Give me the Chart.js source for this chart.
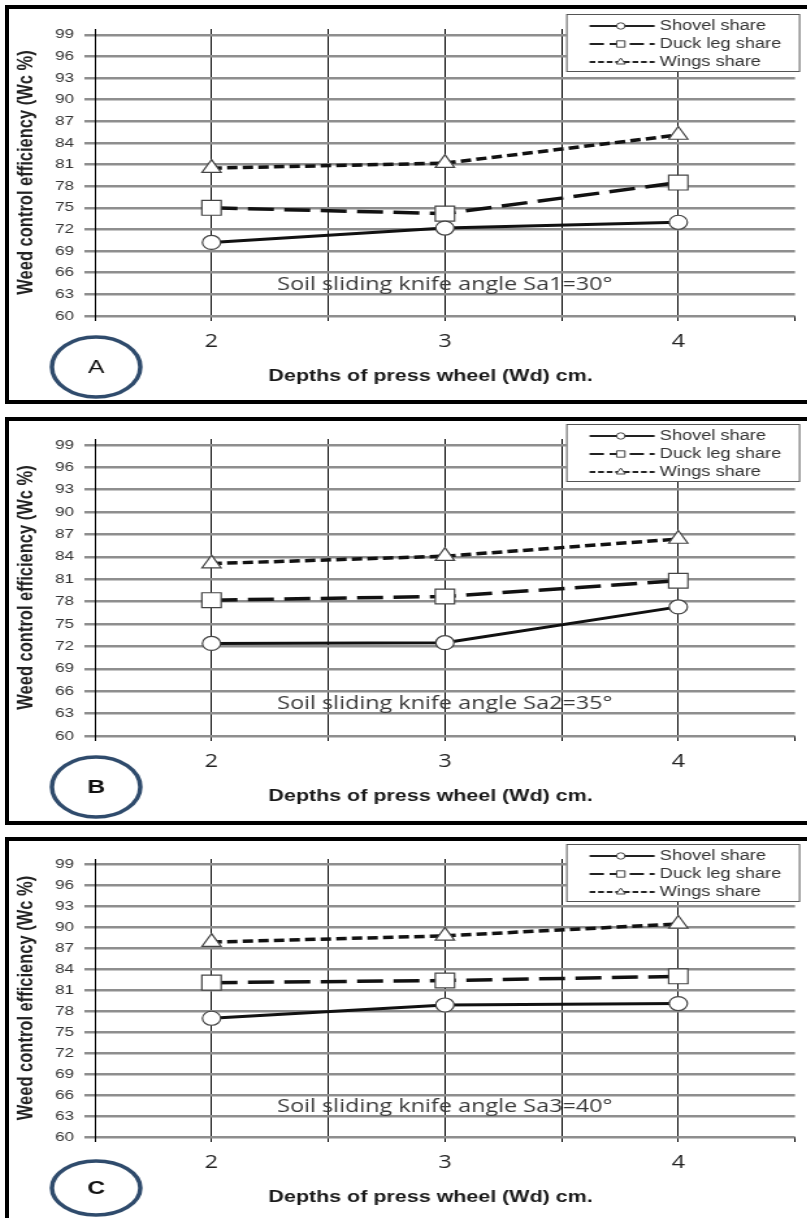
<!DOCTYPE html>
<html lang="en">
<head>
<meta charset="UTF-8">
<title>Weed control efficiency vs depth of press wheel</title>
<script src="https://cdn.jsdelivr.net/npm/chart.js"></script>
<style>
  html, body { margin: 0; padding: 0; background: #fff; width: 807px; height: 1218px; overflow: hidden; }
  .panel { position: absolute; left: 5px; width: 830px; border: 4px solid #000; background: #fff; overflow: hidden; }
  /* the scanned figure is stretched sideways, so the charts are too */
  .stretch { position: absolute; left: 0; top: 0; width: 620px; height: 100%; transform: scaleX(1.3); transform-origin: 0 0; }
</style>
</head>
<body>
<div class="panel" style="top:5px;height:391px"><div class="stretch"><canvas id="chartA"></canvas></div></div>
<div class="panel" style="top:417px;height:400px"><div class="stretch"><canvas id="chartB"></canvas></div></div>
<div class="panel" style="top:837px;height:400px"><div class="stretch"><canvas id="chartC"></canvas></div></div>

<script>
// ---- data ----
const depths = [2, 3, 4];
const yTicks = [60, 63, 66, 69, 72, 75, 78, 81, 84, 87, 90, 93, 96, 99];
const seriesNames = ['Shovel share', 'Duck leg share', 'Wings share'];

// A: Sa1 = 30°
const shovelA = [70.2, 72.2, 73.0];
const duckA   = [75.0, 74.2, 78.5];
const wingsA  = [80.5, 81.2, 85.1];
// B: Sa2 = 35°
const shovelB = [72.4, 72.5, 77.3];
const duckB   = [78.2, 78.7, 80.8];
const wingsB  = [83.1, 84.1, 86.4];
// C: Sa3 = 40°
const shovelC = [77.0, 78.9, 79.1];
const duckC   = [82.1, 82.4, 83.0];
const wingsC  = [87.9, 88.8, 90.5];

const panelLetters = ['A', 'B', 'C'];
const angleNotes = [
  'Soil sliding knife angle Sa1=30°',
  'Soil sliding knife angle Sa2=35°',
  'Soil sliding knife angle Sa3=40°'
];

// ---- styles ----
Chart.defaults.font.family = '"Liberation Sans", Arial, sans-serif';

const lineStyles = [
  { dash: [],      width: 3,   point: 'circle',   radius: 7,    legendRadius: 3.2 },
  { dash: [20, 8], width: 3.5, point: 'rect',     radius: 10.5, legendRadius: 4.5 },
  { dash: [8, 4],  width: 3.5, point: 'triangle', radius: 8.5,  legendRadius: 4 }
];

const layouts = [
  { id: 'chartA', top: 20, axisH: 84,  letterWeight: 'normal', ry: 30 },
  { id: 'chartB', top: 18, axisH: 85,  letterWeight: 'bold',   ry: 30 },
  { id: 'chartC', top: 18, axisH: 104, letterWeight: 'bold',   ry: 27 }
];

// note, x title, letter badge and legend
const panelDecor = {
  id: 'panelDecor',
  afterDraw(chart, args, opts) {
    const { ctx, chartArea: a, scales: { x, y } } = chart;
    ctx.save();
    ctx.textAlign = 'center';
    ctx.textBaseline = 'middle';

    ctx.font = '18px "Open Sans"';
    ctx.fillStyle = '#3a3a3a';
    ctx.fillText(opts.note, x.getPixelForValue(3), y.getPixelForValue(64.3));

    ctx.font = 'bold 16.5px "Liberation Sans"';
    ctx.fillStyle = '#1a1a1a';
    ctx.fillText('Depths of press wheel (Wd) cm.', (a.left + a.right) / 2 - 11, a.bottom + 60);

    const cx = 67, cy = a.bottom + 51;
    ctx.beginPath();
    ctx.ellipse(cx, cy, 34, opts.ry, 0, 0, Math.PI * 2);
    ctx.fillStyle = '#fff';
    ctx.fill();
    ctx.lineWidth = 3.5;
    ctx.strokeStyle = '#2f4b6c';
    ctx.stroke();
    ctx.fillStyle = '#111';
    ctx.font = opts.letterWeight + ' 19px "Liberation Sans"';
    ctx.fillText(opts.letter, cx, cy + 1);

    // legend box
    const lx = a.right - 176, ly = a.top - 15, lw = 179, lh = 57;
    ctx.fillStyle = '#fff';
    ctx.fillRect(lx, ly, lw, lh);
    ctx.lineWidth = 1;
    ctx.strokeStyle = '#555';
    ctx.strokeRect(lx + 0.5, ly + 0.5, lw, lh);

    chart.data.datasets.forEach((ds, i) => {
      const ry = ly + 12 + i * 18;
      ctx.setLineDash(ds.borderDash.map(d => d * 0.55));
      ctx.lineWidth = 2;
      ctx.strokeStyle = '#222';
      ctx.beginPath();
      ctx.moveTo(lx + 18, ry);
      ctx.lineTo(lx + 68, ry);
      ctx.stroke();
      ctx.setLineDash([]);
      ctx.fillStyle = '#fff';
      ctx.strokeStyle = '#444';
      ctx.lineWidth = 1;
      Chart.helpers.drawPoint(ctx, { pointStyle: ds.pointStyle, radius: lineStyles[i].legendRadius, rotation: 0, borderWidth: 1 }, lx + 42, ry);
      ctx.fillStyle = '#333';
      ctx.textAlign = 'left';
      ctx.font = '14px "Liberation Sans"';
      ctx.fillText(ds.label, lx + 72, ry);
    });
    ctx.restore();
  }
};

function makeDatasets(values) {
  return values.map((vals, i) => ({
    label: seriesNames[i],
    data: depths.map((d, k) => ({ x: d, y: vals[k] })),
    borderColor: '#111',
    borderWidth: lineStyles[i].width,
    borderDash: lineStyles[i].dash,
    pointStyle: lineStyles[i].point,
    pointRadius: lineStyles[i].radius,
    pointBackgroundColor: '#fff',
    pointBorderColor: '#444',
    pointBorderWidth: 1.2,
    tension: 0,
    fill: false
  }));
}

function makeChart(p, values, idx) {
  return new Chart(document.getElementById(p.id), {
    type: 'line',
    data: { datasets: makeDatasets(values) },
    options: {
      responsive: true,
      maintainAspectRatio: false,
      animation: false,
      layout: { padding: { top: p.top, right: 15.4, left: 0, bottom: 0 } },
      plugins: {
        legend: { display: false },
        tooltip: { enabled: false },
        panelDecor: { note: angleNotes[idx], letter: panelLetters[idx], letterWeight: p.letterWeight, ry: p.ry }
      },
      scales: {
        x: {
          type: 'linear',
          min: 1.5,
          max: 4.5,
          ticks: {
            stepSize: 0.5,
            autoSkip: false,
            maxRotation: 0,
            padding: 10,
            color: '#222',
            font: { family: '"Open Sans"', size: 18 },
            callback: v => Number.isInteger(v) ? String(v) : ''
          },
          grid: {
            color: c => (c.tick && c.tick.value === 4.5) ? 'rgba(0,0,0,0)' : '#000',
            tickColor: '#000',
            lineWidth: 1,
            tickLength: 5
          },
          border: { display: false },
          afterFit: s => { s.height = p.axisH; }
        },
        y: {
          min: 60,
          max: 99.8,
          afterBuildTicks: s => { s.ticks = yTicks.map(v => ({ value: v })); },
          ticks: { padding: 8, color: '#333', font: { size: 13 } },
          grid: { color: '#8e8e8e', lineWidth: 2.5, tickLength: 8 },
          border: { display: true, color: '#000', width: 1 },
          title: {
            display: true,
            text: 'Weed control efficiency (Wc %)',
            color: '#222',
            font: { size: 16.5, weight: 'bold' },
            padding: { top: 4, bottom: 0 }
          },
          afterFit: s => { s.width = 66; }
        }
      }
    },
    plugins: [panelDecor]
  });
}

makeChart(layouts[0], [shovelA, duckA, wingsA], 0);
makeChart(layouts[1], [shovelB, duckB, wingsB], 1);
makeChart(layouts[2], [shovelC, duckC, wingsC], 2);
</script>
</body>
</html>
